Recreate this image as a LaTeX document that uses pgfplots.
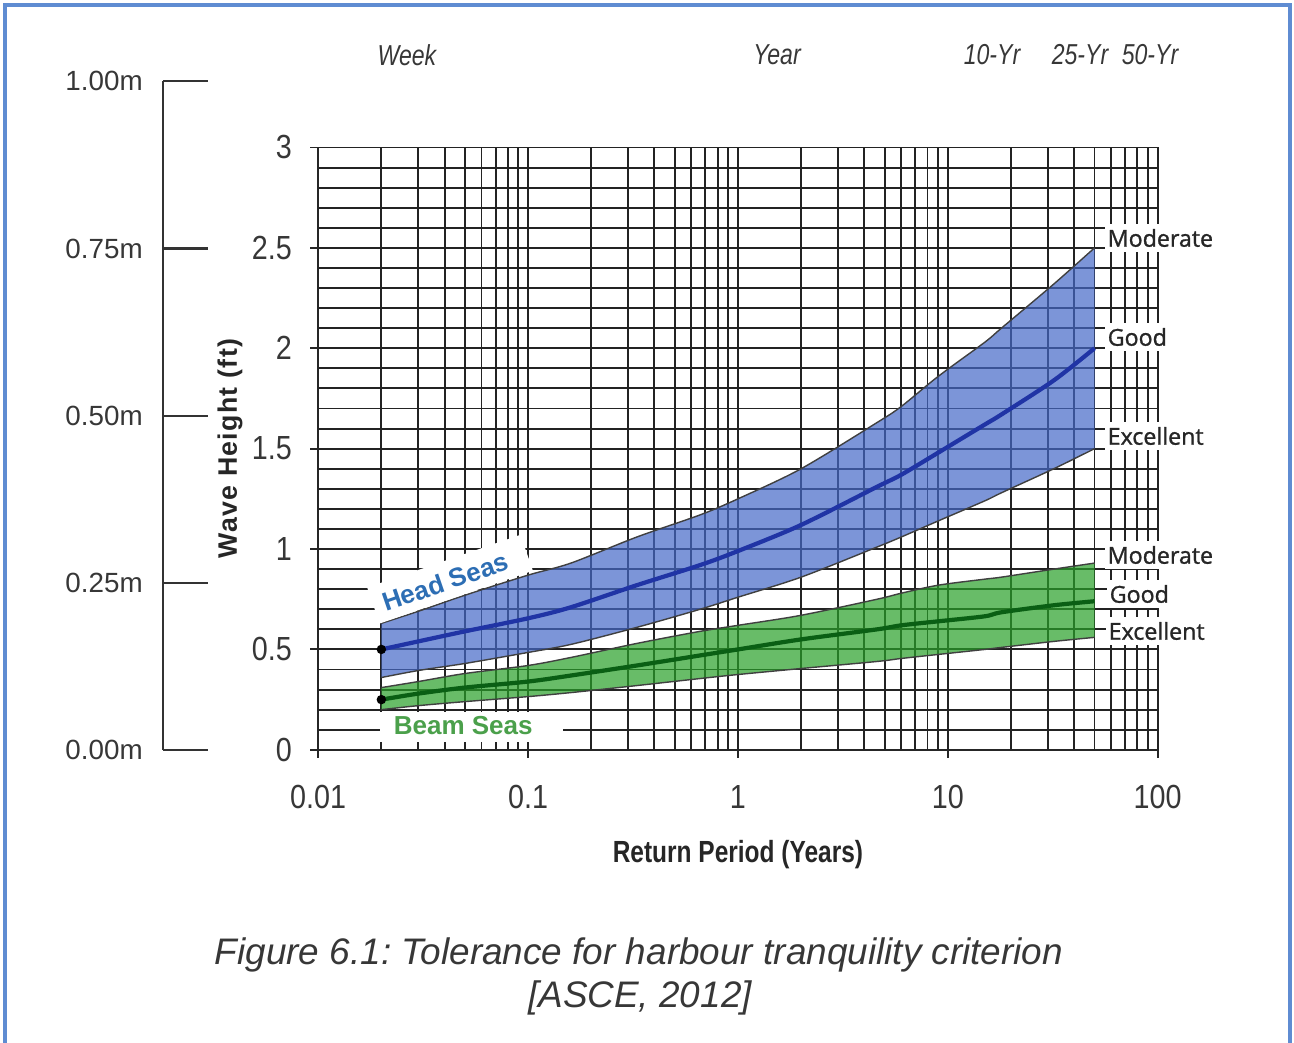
\documentclass[border=0pt]{standalone}
\usepackage{pgfplots}
\pgfplotsset{compat=1.18}
\usepgfplotslibrary{fillbetween}
\usepackage{pgfplotstable}
\usepackage{fontspec}
\setmainfont{Liberation Sans}
\newfontfamily\tickfont{Liberation Sans}[FakeStretch=0.86]
\newfontfamily\condfont{Liberation Sans}[FakeStretch=0.8]
\newfontfamily\levelfont{Open Sans}[FakeBold=1.2]

\definecolor{framebl}{RGB}{95,140,210}
\definecolor{headfill}{RGB}{68,104,200}
\definecolor{headline}{RGB}{32,52,165}
\definecolor{headtxt}{RGB}{45,110,180}
\definecolor{beamfill}{RGB}{40,160,40}
\definecolor{beamline}{RGB}{10,95,20}
\definecolor{beamtxt}{RGB}{75,160,75}
\definecolor{gridc}{RGB}{35,35,35}
\definecolor{txtgray}{RGB}{55,55,55}

% Head Seas: Excellent (lo), Good (mid), Moderate (hi)
\pgfplotstableread{
x     hi    mid   lo
0.02  0.63  0.50  0.36
0.03  0.69  0.54  0.395
0.05  0.77  0.59  0.43
0.1   0.87  0.655 0.485
0.16  0.93  0.71  0.525
0.33  1.06  0.82  0.61
0.66  1.17  0.92  0.70
1     1.25  0.99  0.76
2     1.40  1.12  0.86
4.6   1.63  1.31  1.01
6     1.71  1.37  1.06
9     1.86  1.48  1.14
15    2.03  1.62  1.24
18    2.10  1.67  1.28
32    2.32  1.84  1.40
50    2.50  2.00  1.50
}\headtab

% Beam Seas
\pgfplotstableread{
x     hi    mid   lo
0.02  0.31  0.25  0.20
0.03  0.34  0.28  0.22
0.05  0.38  0.31  0.24
0.1   0.42  0.34  0.265
0.16  0.46  0.37  0.285
0.33  0.53  0.42  0.32
0.66  0.59  0.47  0.355
1     0.62  0.50  0.375
2     0.67  0.55  0.405
4.6   0.75  0.60  0.44
6     0.78  0.62  0.455
9     0.82  0.64  0.475
15    0.85  0.665 0.50
18    0.86  0.685 0.51
32    0.90  0.72  0.54
50    0.93  0.74  0.56
}\beamtab

\begin{document}
\begin{tikzpicture}

% metre scale
\begin{axis}[
  at={(1.63cm,2.93cm)}, anchor=south west,
  width=0.01cm, height=6.68cm, scale only axis,
  xmin=0, xmax=1, ymin=0, ymax=1,
  hide x axis, axis y line*=left,
  ytick={0,0.25,0.5,0.75,1},
  yticklabels={0.00m,0.25m,0.50m,0.75m,1.00m},
  tick align=inside, major tick length=0.45cm,
  axis line style={line width=0.6pt, black!80, -},
  tick style={line width=0.6pt, black!80},
  yticklabel style={font=\fontsize{7.9}{9}\selectfont, text=txtgray, xshift=-0.08cm},
]
\addplot[draw=none] coordinates {(0.5,0.5)};
\end{axis}

\begin{axis}[
  at={(3.18cm,2.93cm)}, anchor=south west,
  width=8.39cm, height=6.02cm, scale only axis,
  xmode=log, xmin=0.01, xmax=100, ymin=0, ymax=3,
  axis x line*=bottom, axis y line*=left,
  axis line style={line width=0.6pt, black!85, -},
  xtick={0.01,0.1,1,10,100}, xticklabels={0.01,0.1,1,10,100},
  ytick={0,0.5,1,1.5,2,2.5,3}, yticklabels={0,0.5,1,1.5,2,2.5,3},
  minor y tick num=4,
  grid=both,
  major grid style={line width=0.55pt, gridc},
  minor grid style={line width=0.55pt, gridc},
  tick align=outside, major tick length=0.08cm, minor tick length=0pt,
  tick style={line width=0.55pt, black!85},
  ticklabel style={font=\tickfont\fontsize{9.5}{11}\selectfont, text=txtgray},
  xticklabel style={yshift=-0.15cm},
  yticklabel style={xshift=-0.06cm},
  xlabel={Return Period (Years)},
  xlabel style={font=\condfont\bfseries\fontsize{8.7}{10}\selectfont, text=black!85,
    at={(axis description cs:0.5,-0.174)}, anchor=center},
  ylabel={Wave Height (ft)},
  ylabel style={font=\bfseries\fontsize{7.6}{9}\selectfont\addfontfeature{LetterSpace=5}, text=black!85,
    at={(axis description cs:-0.105,0.5)}, anchor=center},
]
% Head Seas band
\addplot[name path=hh, smooth, line width=0.4pt, black!75] table[x=x,y=hi]{\headtab};
\addplot[name path=hl, smooth, line width=0.4pt, black!75] table[x=x,y=lo]{\headtab};
\addplot[headfill, fill opacity=0.7, draw=none] fill between[of=hh and hl];
\addplot[smooth, line width=1.2pt, headline, mark=*, mark indices={1}, mark size=0.7pt,
  mark options={black, solid}] table[x=x,y=mid]{\headtab};

% Beam Seas band
\addplot[name path=bh, smooth, line width=0.4pt, black!75] table[x=x,y=hi]{\beamtab};
\addplot[name path=bl, smooth, line width=0.4pt, black!75] table[x=x,y=lo]{\beamtab};
\addplot[beamfill, fill opacity=0.7, draw=none] fill between[of=bh and bl];
\addplot[smooth, line width=1.2pt, beamline, mark=*, mark indices={1}, mark size=0.7pt,
  mark options={black, solid}] table[x=x,y=mid]{\beamtab};

% white label boxes
\node[fill=white, inner sep=0pt, minimum width=1.62cm, minimum height=0.38cm, rotate=19]
  at (axis cs:0.0425,0.85) {};
\node[fill=white, inner sep=0pt, minimum width=1.83cm, minimum height=0.30cm]
  at (axis cs:0.0537,0.115) {};
\node[font=\bfseries\fontsize{7.4}{9}\selectfont, text=headtxt, rotate=19]
  at (axis cs:0.0403,0.837) {Head Seas};
\node[font=\bfseries\fontsize{7.4}{9}\selectfont, text=beamtxt]
  at (axis cs:0.0491,0.12) {Beam Seas};
\end{axis}

\begin{scope}[x=0.01cm,y=0.01cm]
% return-period labels on top
\begin{scope}[every node/.style={font=\condfont\itshape\fontsize{8.2}{9}\selectfont, text=txtgray}]
\node at (407,988) {Week};
\node at (777,988) {Year};
\node at (992,988) {10-Yr};
\node at (1080,988) {25-Yr};
\node at (1150,988) {50-Yr};
\end{scope}

% criterion labels
\begin{scope}[every node/.style={font=\levelfont\fontsize{6.6}{8}\selectfont, text=black!85,
   fill=white, anchor=west, inner xsep=0.03cm, inner ysep=0.05cm}]
\node at (1104,805) {Moderate};
\node at (1104,706) {Good};
\node at (1104,607) {Excellent};
\node at (1104,488) {Moderate};
\node at (1106,449) {Good};
\node at (1105,412) {Excellent};
\end{scope}

% caption
\node[font=\itshape\fontsize{10.5}{12}\selectfont, text=txtgray] at (639,88)
  {Figure 6.1:\ Tolerance for harbour tranquility criterion};
\node[font=\itshape\fontsize{10.5}{12}\selectfont, text=txtgray] at (640,45) {[ASCE, 2012]};

% frame
\draw[framebl, line width=0.035cm] (5,0) -- (5,1038) -- (1290,1038) -- (1290,0);
\pgfresetboundingbox
\path[use as bounding box] (0,0) rectangle (1294,1043);
\end{scope}
\end{tikzpicture}
\end{document}
